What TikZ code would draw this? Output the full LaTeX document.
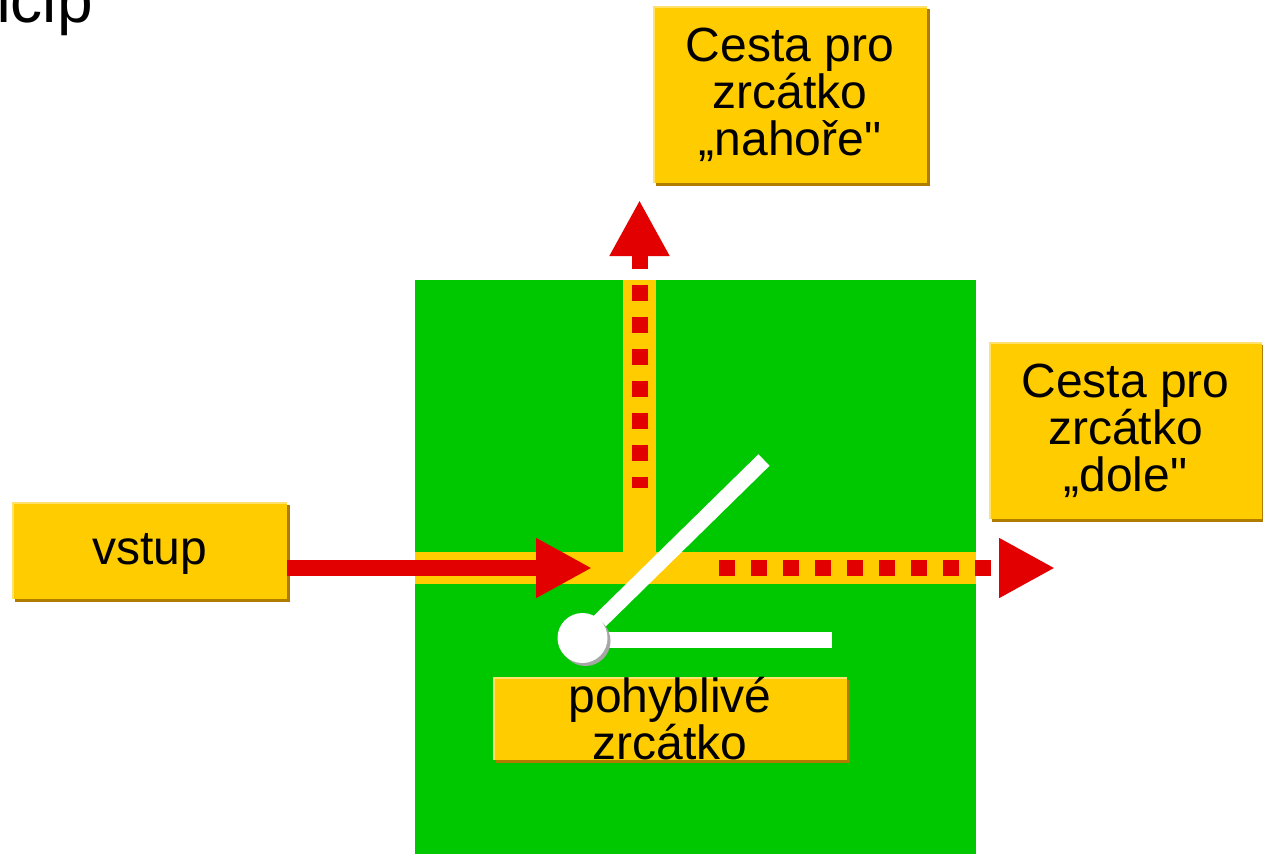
\documentclass[tikz,border=0pt]{standalone}
\usepackage{fontspec}
\setmainfont{Liberation Sans}[Ligatures=TeXOff]
\usetikzlibrary{arrows.meta,shadows}

\definecolor{deska}{RGB}{0,200,0}
\definecolor{zluta}{RGB}{255,204,0}
\definecolor{svetla}{RGB}{255,226,110}
\definecolor{stin}{RGB}{176,124,0}
\definecolor{cervena}{RGB}{226,0,0}

\begin{document}
\begin{tikzpicture}[x=1pt,y=-1pt,font=\fontsize{48}{47}\selectfont,
    >={Triangle[length=56pt,width=56pt]}]
  \tikzstyle{box}=[fill=zluta,align=center,inner sep=0pt,
    drop shadow={shadow xshift=3pt,shadow yshift=-3pt,fill=stin,opacity=1},
    path picture={\draw[svetla,line width=4pt] (path picture bounding box.south west)
      -- (path picture bounding box.north west) -- (path picture bounding box.north east);}]
  \tikzstyle{paprsek}=[draw=cervena,line width=16pt]
  \tikzstyle{tecky}=[paprsek,dash pattern=on 16pt off 16pt]
  \tikzstyle{zrcadlo}=[draw=white,line width=16pt]

  \useasboundingbox (0,0) rectangle (1263,854);
  \clip (0,0) rectangle (1263,854);

  \node[anchor=base east,inner sep=0pt,font=\fontsize{64}{64}\selectfont] (nadpis) at (93,22) {Princip};

  % deska a svetlovody
  \fill[deska] (415,280) rectangle (976,854);
  \fill[zluta] (415,552) rectangle (976,584);
  \fill[zluta] (623,280) rectangle (656,552);

  \node[box,minimum width=275pt,minimum height=97pt,text depth=4pt] (vstup) at (149.5,550.5) {vstup};
  \node[box,minimum width=274pt,minimum height=177pt] (nahore) at (790,94.5) {Cesta pro\\zrcátko\\„nahoře"};
  \node[box,minimum width=273pt,minimum height=177pt] (dole) at (1125.5,430.5) {Cesta pro\\zrcátko\\„dole"};

  \coordinate (vstupHrot) at (592,568);
  \coordinate (hore) at (639.5,200);
  \coordinate (horeKonec) at (639.5,488);
  \coordinate (vpravoZacatek) at (719,568);
  \coordinate (vpravo) at (1055,568);
  \draw[paprsek,->] (vstup.east |- vstupHrot) -- (vstupHrot);
  \draw[tecky,<-] (hore) -- (horeKonec);
  \draw[tecky,->] (vpravoZacatek) -- (vpravo);

  % zrcatko s kloubem
  \coordinate (osa) at (582.5,638);
  \coordinate (konec) at (764,460);
  \coordinate (doraz) at (832,640);
  \draw[zrcadlo] (osa) -- (konec);
  \draw[zrcadlo] (osa |- doraz) -- (doraz);
  \node[circle,fill=white,minimum size=50pt,inner sep=0pt,
    drop shadow={shadow xshift=3pt,shadow yshift=-3pt,fill=black!35,opacity=1}] (kloub) at (osa) {};

  \node[box,minimum width=354pt,minimum height=81pt] (popis) at (670,718.5) {pohyblivé\\zrcátko};
\end{tikzpicture}
\end{document}
